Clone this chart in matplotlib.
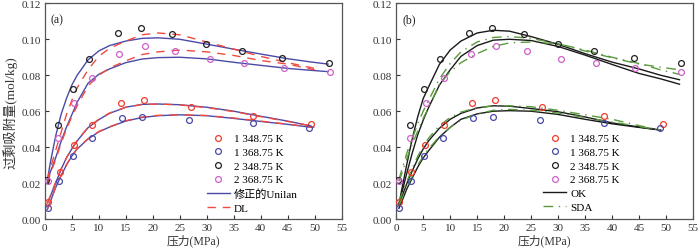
import matplotlib
matplotlib.use("Agg")
import matplotlib.pyplot as plt
from matplotlib.lines import Line2D

FONT = ['Liberation Serif', 'Noto Sans CJK SC']
plt.rcParams['font.family'] = FONT
plt.rcParams['font.size'] = 8

# ---------------- measured data (same samples in both panels) ----------------
series_labels = ['1 348.75 K', '1 368.75 K', '2 348.75 K', '2 368.75 K']
series_colors = ['#f03c2c', '#4a4aa8', '#222222', '#d060c8']

p_s1_348 = [0.56, 2.8, 5.4, 8.8, 14.1, 18.3, 27.0, 38.5, 49.4]
q_s1_348 = [0.0095, 0.0263, 0.0413, 0.0522, 0.0643, 0.0662, 0.0626, 0.0575, 0.0528]

p_s1_368 = [0.56, 2.65, 5.2, 8.7, 14.3, 18.0, 26.7, 38.5, 48.9]
q_s1_368 = [0.0059, 0.0214, 0.0353, 0.0453, 0.0561, 0.0565, 0.0550, 0.0532, 0.0508]

p_s2_348 = [0.3, 2.5, 5.2, 8.1, 13.5, 17.8, 23.6, 29.9, 36.6, 44.0, 52.7]
q_s2_348 = [0.0220, 0.0526, 0.0725, 0.0888, 0.1035, 0.1060, 0.1028, 0.0972, 0.0933, 0.0897, 0.0868]

p_s2_368 = [0.56, 2.5, 5.5, 8.8, 13.8, 18.5, 24.2, 30.6, 37.0, 44.3, 52.8]
q_s2_368 = [0.0214, 0.0451, 0.0647, 0.0785, 0.0920, 0.0965, 0.0933, 0.0891, 0.0868, 0.0838, 0.0816]

# ---------------- model curves ----------------
p_fit = [0.5, 1, 2, 3, 4, 5, 6, 8, 10, 12, 15, 18, 21, 25, 30, 35, 40, 45, 49, 52.5]
p_fit_low = p_fit[:-1]          # lower pair ends near 49 MPa

# (a) modified Unilan
uni_s2_348 = [0.022, 0.031, 0.046, 0.058, 0.067, 0.0745, 0.080, 0.0885, 0.0935, 0.0965, 0.0990,
              0.1005, 0.1008, 0.1000, 0.0973, 0.0945, 0.0918, 0.0892, 0.0875, 0.0862]
uni_s2_368 = [0.021, 0.026, 0.034, 0.043, 0.051, 0.058, 0.065, 0.0755, 0.0805, 0.0835, 0.0870,
              0.0890, 0.0898, 0.0900, 0.0891, 0.0872, 0.0855, 0.0838, 0.0828, 0.0820]
uni_s1_348 = [0.009, 0.0125, 0.020, 0.0275, 0.034, 0.039, 0.0435, 0.0508, 0.0553, 0.0588, 0.0622,
              0.0638, 0.0640, 0.0636, 0.0622, 0.0600, 0.0572, 0.0545, 0.0520]
uni_s1_368 = [0.0055, 0.0095, 0.0175, 0.0240, 0.0300, 0.0350, 0.0390, 0.0445, 0.0485, 0.0512, 0.0545,
              0.0565, 0.0575, 0.0580, 0.0575, 0.0560, 0.0543, 0.0527, 0.0512]

# (a) DL
p_dl = [0.5, 1, 2, 3, 4, 5, 6, 8, 10, 12, 15, 18, 21, 25, 30, 35, 40, 45, 50]
dl_s2_348 = [0.022, 0.028, 0.038, 0.048, 0.058, 0.066, 0.073, 0.083, 0.0905, 0.0950, 0.0990,
             0.1025, 0.1035, 0.1025, 0.0985, 0.0945, 0.0905, 0.0870, 0.0838]
dl_s2_368 = [0.020, 0.025, 0.033, 0.042, 0.050, 0.057, 0.063, 0.0740, 0.0800, 0.0840, 0.0880,
             0.0915, 0.0930, 0.0940, 0.0930, 0.0910, 0.0882, 0.0862, 0.0830]
dl_s1_348 = [0.009, 0.0128, 0.0205, 0.0278, 0.0340, 0.0392, 0.0438, 0.0510, 0.0555, 0.0590, 0.0622,
             0.0637, 0.0640, 0.0635, 0.0620, 0.0598, 0.0570, 0.0543, 0.0515]
dl_s1_368 = [0.0058, 0.0098, 0.0178, 0.0243, 0.0302, 0.0352, 0.0392, 0.0447, 0.0487, 0.0513, 0.0547,
             0.0567, 0.0577, 0.0580, 0.0576, 0.0562, 0.0545, 0.0528, 0.0510]

# (b) OK
ok_s2_348 = [0.008, 0.016, 0.031, 0.045, 0.057, 0.067, 0.0735, 0.086, 0.094, 0.099, 0.1035,
             0.1050, 0.1045, 0.1015, 0.0972, 0.0920, 0.0873, 0.0835, 0.0800, 0.0775]
ok_s2_368 = [0.008, 0.014, 0.026, 0.037, 0.047, 0.055, 0.062, 0.0745, 0.083, 0.0905, 0.0965,
             0.0995, 0.1000, 0.0993, 0.0960, 0.0912, 0.0860, 0.0810, 0.0780, 0.0750]
ok_s1_348 = [0.008, 0.012, 0.020, 0.027, 0.0335, 0.039, 0.0435, 0.0505, 0.0555, 0.0588, 0.0618,
             0.0630, 0.0628, 0.0615, 0.0597, 0.0568, 0.0535, 0.0512, 0.0495]
ok_s1_368 = [0.006, 0.0095, 0.017, 0.023, 0.029, 0.034, 0.038, 0.0455, 0.051, 0.0555, 0.0585,
             0.0600, 0.0603, 0.0600, 0.0582, 0.0555, 0.0530, 0.0510, 0.0495]

# (b) SDA
sda_s2_348 = [0.022, 0.027, 0.037, 0.045, 0.053, 0.060, 0.066, 0.078, 0.0865, 0.093, 0.0985,
              0.1010, 0.1015, 0.1005, 0.0975, 0.0935, 0.0897, 0.0862, 0.0845, 0.0830]
sda_s2_368 = [0.021, 0.025, 0.034, 0.042, 0.049, 0.056, 0.062, 0.075, 0.082, 0.087, 0.092,
              0.0960, 0.0980, 0.0985, 0.0975, 0.0940, 0.0900, 0.0865, 0.0830, 0.0805]
sda_s1_348 = [0.010, 0.0135, 0.021, 0.0285, 0.035, 0.0405, 0.045, 0.052, 0.0565, 0.0595, 0.0620,
              0.0630, 0.0630, 0.0625, 0.0605, 0.0580, 0.0555, 0.0520, 0.0495]
sda_s1_368 = [0.008, 0.011, 0.018, 0.024, 0.030, 0.035, 0.039, 0.046, 0.051, 0.055, 0.0585,
              0.0605, 0.0610, 0.0605, 0.0590, 0.0565, 0.0540, 0.0515, 0.0495]

x_ticks = [0, 5, 10, 15, 20, 25, 30, 35, 40, 45, 50, 55]
y_ticks = [0.00, 0.02, 0.04, 0.06, 0.08, 0.10, 0.12]

# ---------------- drawing ----------------
fig = plt.figure(figsize=(7.0, 2.53), dpi=100)
ax_a = fig.add_axes([0.064, 0.130, 0.424, 0.853])
ax_b = fig.add_axes([0.566, 0.130, 0.424, 0.853])

UNI_C = '#4a4aa8'
DL_C = '#f04a40'
OK_C = '#1a1a1a'
SDA_C = '#5a9a3c'

points = [(p_s1_348, q_s1_348), (p_s1_368, q_s1_368), (p_s2_348, q_s2_348), (p_s2_368, q_s2_368)]


def style_axes(ax, tag):
    ax.set_xlim(0, 55)
    ax.set_ylim(0, 0.12)
    ax.set_xticks(x_ticks)
    ax.set_yticks(y_ticks)
    ax.set_xticklabels([str(t) for t in x_ticks])
    ax.set_yticklabels(['%.2f' % t for t in y_ticks])
    ax.tick_params(direction='in', length=3, width=0.8, colors='#333333', labelsize=8,
                   top=False, right=False, pad=3)
    for s in ax.spines.values():
        s.set_color('#555555')
        s.set_linewidth(0.9)
    ax.set_xlabel('压力(MPa)', fontsize=8.5, color='#333333', labelpad=1)
    ax.text(0.02, 0.955, tag, transform=ax.transAxes, fontsize=8.5, va='top', ha='left',
            color='#222222')


def draw_points(ax):
    handles = []
    for (p, q), c, lab in zip(points, series_colors, series_labels):
        h, = ax.plot(p, q, linestyle='none', marker='o', markersize=4.2, markerfacecolor='none',
                     markeredgecolor=c, markeredgewidth=0.9, label=lab, zorder=3)
        handles.append(h)
    return handles


LEG_KW = dict(loc='upper left', frameon=False, fontsize=8, handlelength=2.1,
              handletextpad=0.35, labelspacing=0.35, borderaxespad=0, borderpad=0)

# panel (a)
for q in (uni_s2_348, uni_s2_368):
    ax_a.plot(p_fit, q, color=UNI_C, lw=1.0, zorder=2)
for q in (uni_s1_348, uni_s1_368):
    ax_a.plot(p_fit_low, q, color=UNI_C, lw=1.0, zorder=2)
for q in (dl_s2_348, dl_s2_368, dl_s1_348, dl_s1_368):
    ax_a.plot(p_dl, q, color=DL_C, lw=1.0, linestyle=(0, (6, 5)), zorder=2)
hs = draw_points(ax_a)
h_uni = Line2D([], [], color=UNI_C, lw=1.0, label='修正的Unilan')
h_dl = Line2D([], [], color=DL_C, lw=1.0, linestyle=(0, (6, 5)), label='DL')
ax_a.legend(handles=hs + [h_uni, h_dl], bbox_to_anchor=(0.545, 0.396), **LEG_KW)
style_axes(ax_a, '(a)')
ax_a.set_ylabel('过剩吸附量(mol/kg)', fontsize=9.5, color='#333333', labelpad=3)

# panel (b)
for q in (ok_s2_348, ok_s2_368):
    ax_b.plot(p_fit, q, color=OK_C, lw=1.0, zorder=2)
for q in (ok_s1_348, ok_s1_368):
    ax_b.plot(p_fit_low, q, color=OK_C, lw=1.0, zorder=2)
for q in (sda_s2_348, sda_s2_368):
    ax_b.plot(p_fit, q, color=SDA_C, lw=1.0, linestyle=(0, (7, 4, 1, 4)), zorder=2)
for q in (sda_s1_348, sda_s1_368):
    ax_b.plot(p_fit_low, q, color=SDA_C, lw=1.0, linestyle=(0, (7, 4, 1, 4)), zorder=2)
hs_b = draw_points(ax_b)
h_ok = Line2D([], [], color=OK_C, lw=1.0, label='OK')
h_sda = Line2D([], [], color=SDA_C, lw=1.0, linestyle=(0, (7, 4, 1, 4)), label='SDA')
ax_b.legend(handles=hs_b + [h_ok, h_sda], bbox_to_anchor=(0.495, 0.396), **LEG_KW)
style_axes(ax_b, '(b)')

fig.savefig('out.png', dpi=100)
